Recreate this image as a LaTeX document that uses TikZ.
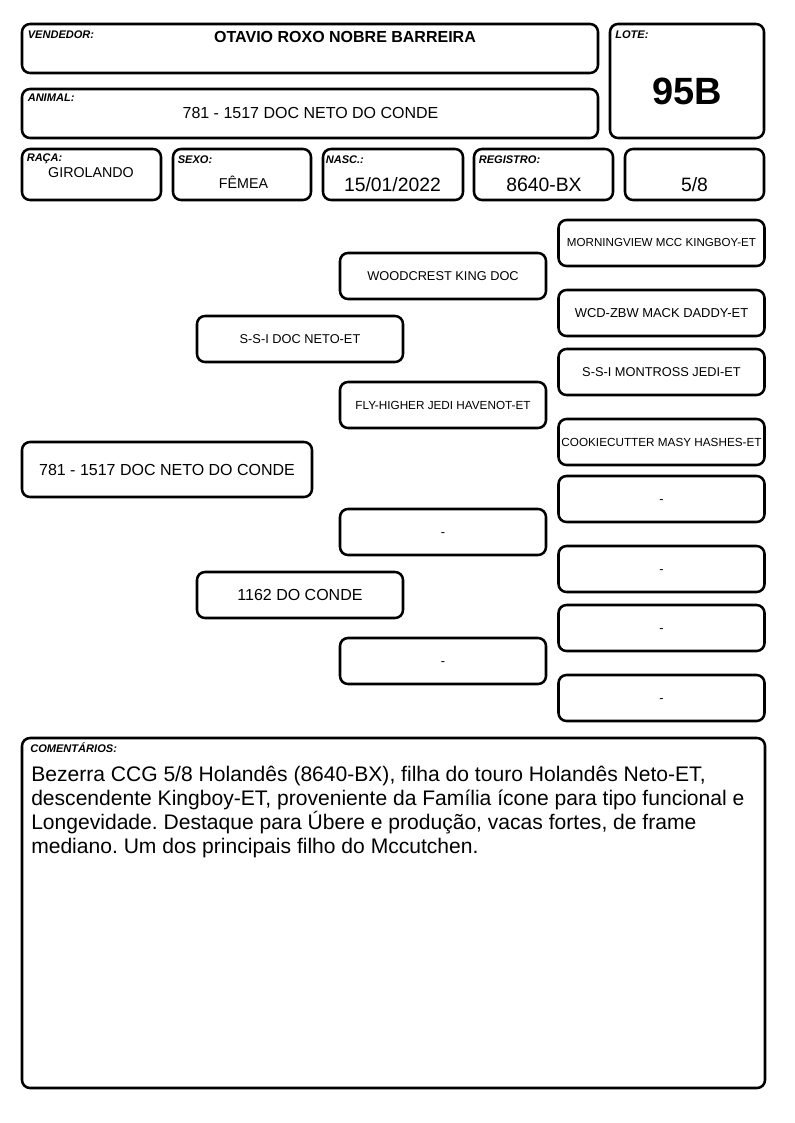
\documentclass[tikz,border=0pt]{standalone}
\usepackage{fontspec}
\setmainfont{Liberation Sans}
\usetikzlibrary{positioning}
\frenchspacing

\begin{document}
\begin{tikzpicture}[x=0.75pt,y=-0.75pt,
		box/.style={draw,line width=1.9pt,rounded corners=6pt,inner sep=0pt},
		sz/.style 2 args={minimum width=#1*0.75pt,minimum height=#2*0.75pt},
		lbl/.style={anchor=base west,inner sep=0pt,font=\fontsize{8.3}{9}\selectfont\bfseries\itshape},
		val/.style={anchor=base,inner sep=0pt,font=\fontsize{10.7}{12}\selectfont},
		bigval/.style={val,font=\fontsize{14.5}{16}\selectfont},
		ped/.style={box,sz={206}{46},font=\fontsize{9.6}{11}\selectfont},
		pedsm/.style={ped,font=\fontsize{8.8}{10}\selectfont},
		pedbig/.style={ped,font=\fontsize{12}{14}\selectfont},
		pednil/.style={ped,text height=0.72em,text depth=0pt}]
		\useasboundingbox (0,0) rectangle (794,1123);
		%
		% header
		\node[box,sz={576}{49}] (vend) at (310,48.5) {};
		\node[box,sz={154}{114}] (lote) at (687,81) {};
		\node[box,sz={576}{49}] (animal) at (310,113.5) {};
		\node[box,sz={139}{51}] (raca) at (91.5,174.5) {};
		\node[box,sz={138}{51}] (sexo) at (242,174.5) {};
		\node[box,sz={140}{51}] (nasc) at (393,174.5) {};
		\node[box,sz={139}{51}] (reg) at (543.5,174.5) {};
		\node[box,sz={139}{51}] (frac) at (694.5,174.5) {};
		%
		\node[lbl] (vendL) at (27.5,39) {VENDEDOR:};
		\node[lbl] (loteL) at (615,39) {LOTE:};
		\node[lbl] (animalL) at (27.5,102) {ANIMAL:};
		\node[lbl] (racaL) at (26.5,162) {RAÇA:};
		\node[lbl] (sexoL) at (177.5,164) {SEXO:};
		\node[lbl] (nascL) at (325.5,164) {NASC.:};
		\node[lbl] (regL) at (478.5,164) {REGISTRO:};
		%
		\node[val,font=\fontsize{12}{14}\selectfont\bfseries] (vendV) at (345,43) {OTAVIO ROXO NOBRE BARREIRA};
		\node[val,font=\fontsize{28.5}{30}\selectfont\bfseries] (loteV) at (687,105) {95B};
		\node[val,font=\fontsize{12}{14}\selectfont] (animalV) at (310.5,119) {781 - 1517 DOC NETO DO CONDE};
		\node[val] (racaV) at (91,177.5) {GIROLANDO};
		\node[val] (sexoV) at (243.5,189) {FÊMEA};
		\node[bigval] (nascV) at (392.5,192) {15/01/2022};
		\node[bigval] (regV) at (544,192) {8640-BX};
		\node[bigval] (fracV) at (694.5,192) {5/8};
		%
		% pedigree
		\node[pedbig,sz={290}{55}] (an) at (167,469.5) {781 - 1517 DOC NETO DO CONDE};
		\node[ped] (pai) at (300,339) {S-S-I DOC NETO-ET};
		\node[pedbig] (mae) at (300,595) {1162 DO CONDE};
		\node[ped] (avoP) at (443,276) {WOODCREST KING DOC};
		\node[pedsm] (avoaP) at (443,405) {FLY-HIGHER JEDI HAVENOT-ET};
		\node[pednil] (avoM) at (443,532) {-};
		\node[pednil] (avoaM) at (443,661) {-};
		\node[ped,font=\fontsize{8.7}{10}\selectfont] (b1) at (661.5,243) {MORNINGVIEW MCC KINGBOY-ET};
		\node[ped,font=\fontsize{9.7}{11}\selectfont] (b2) at (661.5,313) {WCD-ZBW MACK DADDY-ET};
		\node[ped] (b3) at (661.5,372) {S-S-I MONTROSS JEDI-ET};
		\node[pedsm] (b4) at (661.5,442) {COOKIECUTTER MASY HASHES-ET};
		\node[pednil] (b5) at (661.5,499) {-};
		\node[pednil] (b6) at (661.5,569) {-};
		\node[pednil] (b7) at (661.5,628) {-};
		\node[pednil] (b8) at (661.5,698) {-};
		%
		% comments
		\node[box,sz={743}{350}] (coment) at (393.5,913) {};
		\node[lbl] (comentL) at (30,752) {COMENTÁRIOS:};
		\node[anchor=north west,inner sep=0pt,align=left,font=\fontsize{15.8}{18}\selectfont] (comentV) at (31,766)
		{Bezerra CCG 5/8 Holandês (8640-BX), filha do touro Holandês Neto-ET,\\
		descendente Kingboy-ET, proveniente da Família ícone para tipo funcional e\\
		Longevidade. Destaque para Úbere e produção, vacas fortes, de frame\\
		mediano. Um dos principais filho do Mccutchen.};
	\end{tikzpicture}
\end{document}
